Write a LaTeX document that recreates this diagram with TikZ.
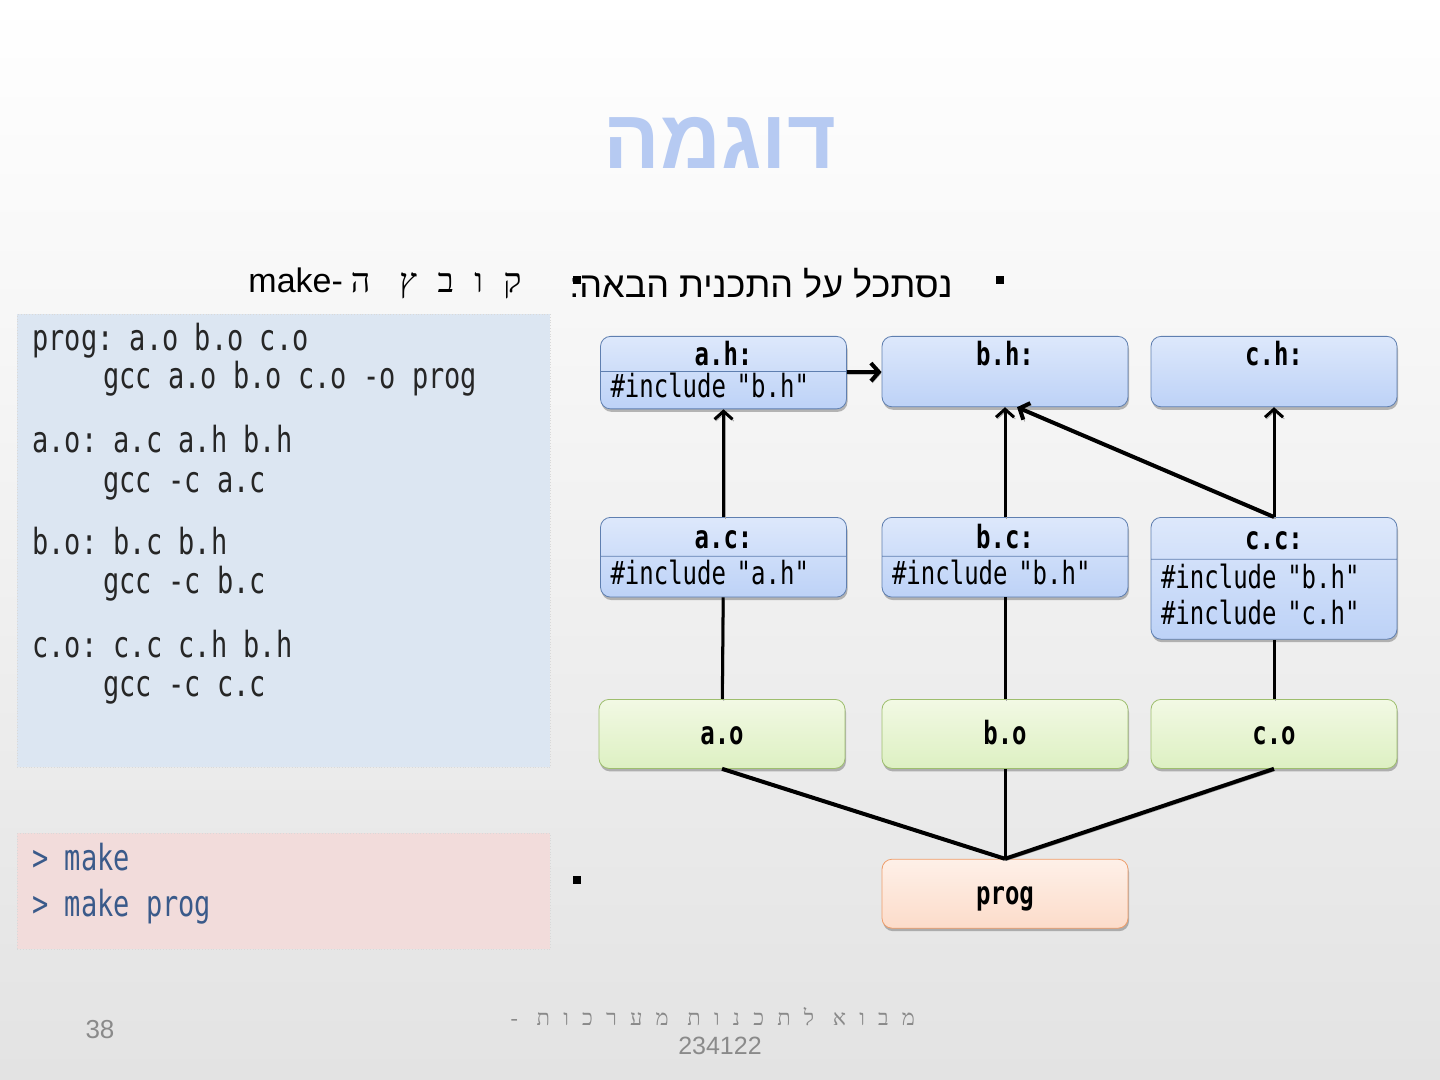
\documentclass[tikz,border=0pt]{standalone}
\usepackage{fontspec}
\setmainfont{Liberation Sans}
\newfontfamily\hebfont[Script=Hebrew]{Liberation Sans}
\newfontfamily\hebspaced[Script=Hebrew,LetterSpace=60]{Liberation Serif}
\newfontfamily\codefont[FakeStretch=0.75]{DejaVu Sans Mono}
\TeXXeTstate=1
\frenchspacing
\usetikzlibrary{arrows.meta,positioning,shapes.multipart,shadows}
\definecolor{titleblue}{HTML}{B6CAF2}
\definecolor{hdrtop}{HTML}{DDE8FB}
\definecolor{hdrbot}{HTML}{BDD2F7}
\definecolor{hdredge}{HTML}{5F7FB0}
\definecolor{objtop}{HTML}{F2F9E4}
\definecolor{objbot}{HTML}{DDF0C2}
\definecolor{objedge}{HTML}{9EBE6E}
\definecolor{exetop}{HTML}{FEF0E8}
\definecolor{exebot}{HTML}{FCDCCA}
\definecolor{exeedge}{HTML}{EE9D6A}
\definecolor{mkfill}{HTML}{DCE6F2}
\definecolor{cmdfill}{HTML}{F2DCDB}
\definecolor{cmdtext}{HTML}{3A5A8A}
\definecolor{footgray}{HTML}{8A8A8A}
\newcommand{\codesize}{\fontsize{16}{16}\selectfont}
\newcommand{\filehdr}[1]{\hbox to 113pt{\strut\hfil\lower2.5pt\hbox{\textbf{#1}}\hfil}}

\begin{document}
\begin{tikzpicture}[x=0.5pt, y=-0.5pt,
    fileshadow/.style={drop shadow={shadow xshift=0.5pt, shadow yshift=-1.5pt, opacity=0.5, fill=black!55}},
    srcfile/.style={rectangle split, rectangle split parts=2,
                    draw=hdredge, rounded corners=5pt, top color=hdrtop, bottom color=hdrbot,
                    text width=113pt, inner xsep=5pt, font=\codefont\codesize, fileshadow},
    hdronly/.style={srcfile, rectangle split draw splits=false},
    objfile/.style={draw=objedge, rounded corners=5pt, top color=objtop, bottom color=objbot,
                    minimum width=123pt, minimum height=34.5pt, font=\codefont\codesize\bfseries,
                    text height=12pt, text depth=1.5pt, fileshadow},
    exefile/.style={objfile, draw=exeedge, top color=exetop, bottom color=exebot},
    codebox/.style={draw=black!15, densely dotted, fill=mkfill, inner sep=0pt},
    codeline/.style={anchor=base west, inner sep=0pt, font=\codefont\fontsize{18}{20}\selectfont, text=black!85},
    bullet/.style={fill=black, minimum size=4pt, inner sep=0pt},
    lineshadow/.style={preaction={draw=black!35, transform canvas={xshift=0.7pt, yshift=-0.9pt}}},
    dep/.style={-{Straight Barb[length=4pt,width=9pt]}, line width=1.5pt, lineshadow},
    link/.style={line width=1.5pt, lineshadow}]
  % slide background
  \useasboundingbox (0,0) rectangle (1440,1080);
  \shade[top color=white, bottom color=black!11] (0,0) rectangle (1440,1080);

  \node[font=\hebfont\bfseries\fontsize{42}{48}\selectfont, text=titleblue] (title) at (720,143) {\beginR דוגמה\endR};

  % bullet line
  \node[bullet] (bul1) at (1000,280) {};
  \node[anchor=east, inner sep=0pt, font=\hebfont\fontsize{18}{20}\selectfont] (intro) at (953,283) {\beginR נסתכל על התכנית הבאה:\endR};
  \node[bullet] (bul2) at (577,280) {};
  \node[anchor=east, inner sep=0pt, font=\fontsize{17}{20}\selectfont] (mkname) at (522,283)
    {\beginR{\hebspaced קובץ ה}\hspace{4pt}\beginL make-\endL\endR};

  % the makefile
  \node[codebox, anchor=north west, minimum width=266.5pt, minimum height=226.5pt] (mkbox) at (17,314) {};
  \foreach \i/\xx/\yy/\txt in {1/32/351/{prog: a.o b.o c.o}, 2/103/389/{gcc a.o b.o c.o -o prog},
      3/32/452/{a.o: a.c a.h b.h}, 4/103/492/{gcc -c a.c},
      5/32/554/{b.o: b.c b.h}, 6/103/593/{gcc -c b.c},
      7/32/657/{c.o: c.c c.h b.h}, 8/103/696/{gcc -c c.c}}
    \node[codeline] (mk\i) at (\xx,\yy) {\txt};

  % commands
  \node[codebox, fill=cmdfill, anchor=north west, minimum width=266.5pt, minimum height=58pt] (cmdbox) at (17,833) {};
  \node[codeline, text=cmdtext] (cmd1) at (32,870) {> make};
  \node[codeline, text=cmdtext] (cmd2) at (32,916) {> make prog};
  \node[bullet] (bul3) at (577,880) {};

  % dependency graph
  \node[srcfile, inner ysep=0.6pt, anchor=north] (ah) at (723.5,336) {\filehdr{a.h:}\nodepart{two}\strut\#include "b.h"};
  \node[hdronly, inner ysep=0.6pt, anchor=north] (bh) at (1005,336) {\filehdr{b.h:}\nodepart{two}\strut};
  \node[hdronly, inner ysep=0.6pt, anchor=north] (ch) at (1274,336) {\filehdr{c.h:}\nodepart{two}\strut};
  \node[srcfile, inner ysep=1.5pt, anchor=north] (ac) at (723.5,517) {\filehdr{a.c:}\nodepart{two}\strut\#include "a.h"};
  \node[srcfile, inner ysep=1.5pt, anchor=north] (bc) at (1005,517) {\filehdr{b.c:}\nodepart{two}\strut\#include "b.h"};
  \node[srcfile, inner ysep=2.25pt, anchor=north] (cc) at (1274,517)
    {\filehdr{c.c:}\nodepart{two}\strut\#include "b.h"\\\strut\#include "c.h"};
  \node[objfile, anchor=north] (ao) at (722,699) {a.o};
  \node[objfile, anchor=north] (bo) at (1005,699) {b.o};
  \node[objfile, anchor=north] (co) at (1274,699) {c.o};
  \node[exefile, below=45pt of bo] (prog) {prog};

  \draw[dep, line width=2pt] (ah) -- (bh);
  \draw[dep] (ac) -- (ah);
  \draw[dep] (bc) -- (bh);
  \draw[dep, line width=2pt] (cc.north) -- ([xshift=6pt]bh.south);
  \draw[dep] (cc) -- (ch);
  \draw[link] (ao) -- (ac);
  \draw[link] (bo) -- (bc);
  \draw[link] (co) -- (cc);
  \draw[link, line width=2pt] (ao.south) -- (prog.north);
  \draw[link] (bo) -- (prog);
  \draw[link, line width=2pt] (co.south) -- (prog.north);

  % footer
  \node[text=footgray, font=\fontsize{13}{15}\selectfont] (pagenum) at (100,1030) {38};
  \node[anchor=east, text=footgray, font=\fontsize{11}{13}\selectfont] (course) at (922,1017)
    {{\hebspaced\beginR מבוא לתכנות מערכות -\endR}};
  \node[text=footgray, font=\fontsize{12.5}{14}\selectfont] (coursenum) at (720,1046) {234122};
\end{tikzpicture}
\end{document}
